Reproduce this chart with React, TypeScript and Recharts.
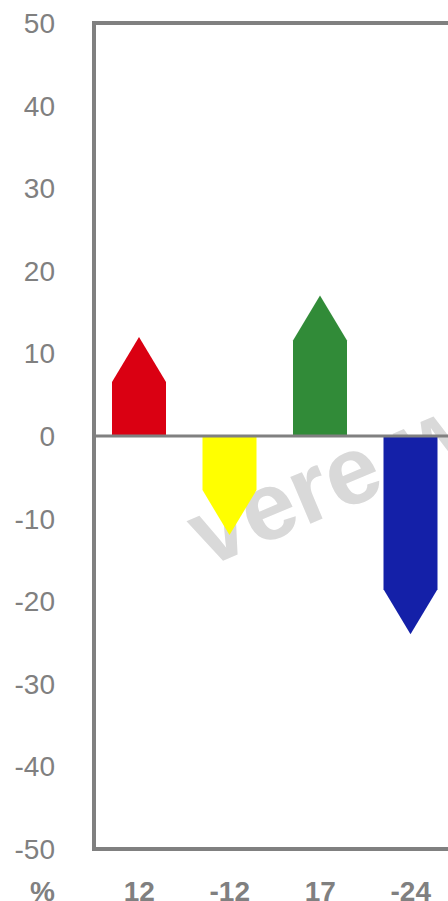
import React from "react"
import { Bar, BarChart, Cell, ReferenceArea, ReferenceLine, XAxis, YAxis } from "recharts"

const labels = ["12", "-12", "17", "-24"]
const values = [12, -12, 17, -24]
const colors = ["#DA0012", "#FFFF00", "#318B38", "#1420A8"]
const yTicks = [-50, -40, -30, -20, -10, 0, 10, 20, 30, 40, 50]

const data = labels.map((name, i) => ({ name, v: values[i] }))

const FONT = '"Liberation Sans", Arial, sans-serif'
const GRAY = "#808080"

function ArrowBar(props: any) {
  const { x, y, width, height, fill, payload } = props
  const top = Math.min(y, y + height)
  const bottom = Math.max(y, y + height)
  const head = Math.min(45, bottom - top)
  const cx = x + width / 2
  const pts =
    payload.v >= 0
      ? [[x, bottom], [x, top + head], [cx, top], [x + width, top + head], [x + width, bottom]]
      : [[x, top], [x + width, top], [x + width, bottom - head], [cx, bottom], [x, bottom - head]]
  return <polygon points={pts.map((p) => p.join(",")).join(" ")} fill={fill} />
}

function YTick(props: any) {
  const { y, payload } = props
  return (
    <text x={55} y={y} dy="0.355em" textAnchor="end" fill={GRAY} fontSize={28} fontFamily={FONT}>
      {payload.value}
    </text>
  )
}

function XTick(props: any) {
  const { x, payload } = props
  return (
    <text x={x} y={901} textAnchor="middle" fill={GRAY} fontSize={28} fontWeight="bold" fontFamily={FONT}>
      {payload.value}
    </text>
  )
}

export default function App() {
  return (
    <div style={{ position: "absolute", left: 0, top: 0, width: 448, height: 901, overflow: "hidden", background: "#fff" }}>
      <svg width={448} height={901} style={{ position: "absolute", left: 0, top: 0 }}>
        <text
          x={0}
          y={0}
          transform="translate(206,568) rotate(-23)"
          fill="#D9D9D9"
          fontSize={96}
          fontWeight="bold"
          fontFamily={FONT}
        >
          vere w
        </text>
        <text x={55} y={901} textAnchor="end" fill={GRAY} fontSize={28} fontWeight="bold" fontFamily={FONT}>
          %
        </text>
      </svg>
      <div style={{ position: "absolute", left: 0, top: 0 }}>
        <BarChart width={466} height={901} data={data} margin={{ top: 23, right: 10, bottom: 51, left: 0 }}>
          <XAxis dataKey="name" axisLine={false} tickLine={false} tick={<XTick />} height={1} />
          <YAxis
            domain={[-50, 50]}
            ticks={yTicks}
            interval={0}
            width={94}
            axisLine={false}
            tickLine={false}
            tick={<YTick />}
          />
          <Bar dataKey="v" barSize={54} shape={<ArrowBar />} isAnimationActive={false}>
            {data.map((d, i) => (
              <Cell key={d.name} fill={colors[i]} />
            ))}
          </Bar>
          <ReferenceLine y={0} stroke={GRAY} strokeWidth={3} />
          <ReferenceArea y1={-50} y2={50} fill="none" stroke={GRAY} strokeWidth={4} fillOpacity={0} />
        </BarChart>
      </div>
    </div>
  )
}
